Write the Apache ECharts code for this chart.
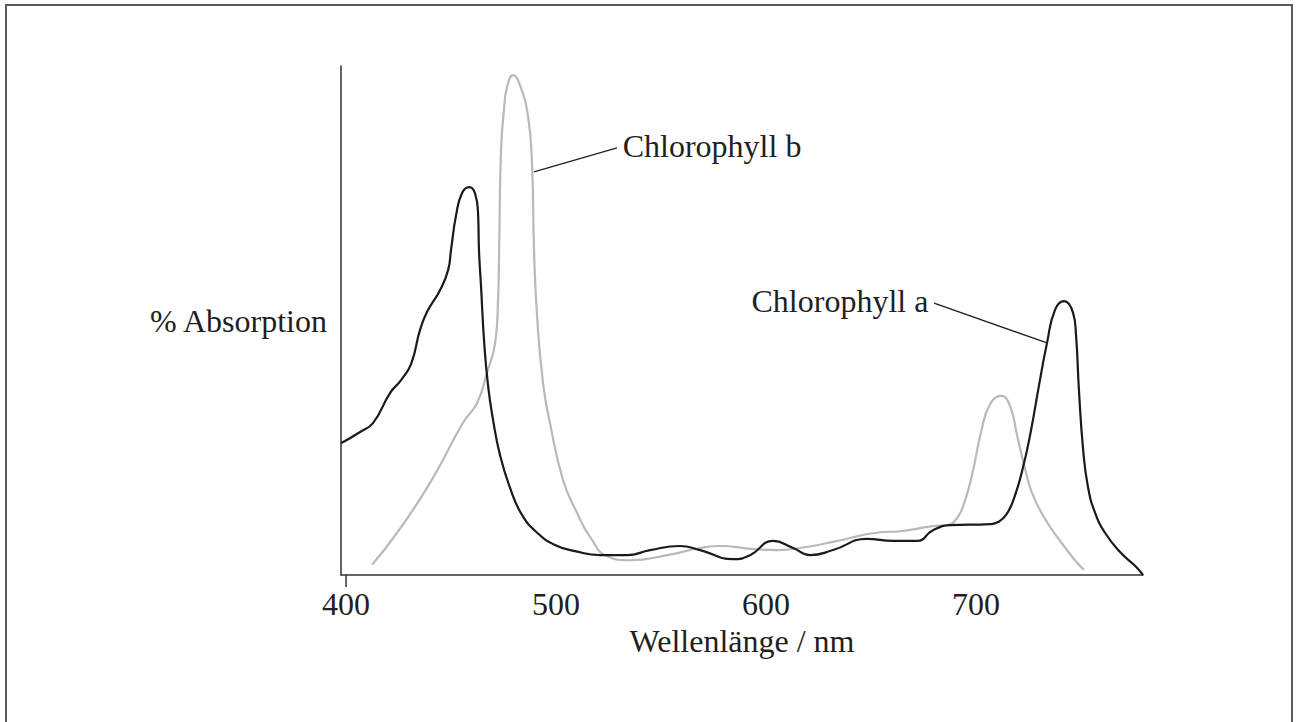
<!DOCTYPE html>
<html>
<head>
<meta charset="utf-8">
<script src="https://cdn.jsdelivr.net/npm/echarts@6/dist/echarts.min.js"></script>
<style>
html,body{margin:0;padding:0;background:#fff;}
#c{width:1300px;height:722px;}
</style>
</head>
<body>
<div id="c"></div>
<script>
// ---- data ----
var xTickLabels = [400, 500, 600, 700];
var xTickMarks = [400];

var chlAWavelength = [397.6,406.7,412.9,421.0,426.2,431.0,435.2,438.6,444.8,448.6,450.0,452.4,455.2,458.6,461.4,462.9,463.3,464.3,465.7,467.6,470.0,473.3,478.1,483.8,491.0,499.5,509.0,521.0,533.8,544.8,559.0,568.6,584.3,592.4,603.3,612.9,621.0,631.9,648.1,660.5,671.9,679.5,687.6,706.7,710.5,714.3,718.1,722.4,726.2,730.0,733.8,737.6,741.9,746.2,747.6,749.0,751.0,753.3,756.7,761.4,768.6,775.7,779.5];
var chlAAbsorption = [25.9,28.1,29.9,35.8,38.3,41.5,48.1,51.7,56.0,59.9,63.9,70.7,75.0,76.2,75.0,70.7,63.9,56.6,46.2,37.3,30.5,23.6,17.1,11.8,8.3,5.9,4.7,3.9,3.9,4.9,5.7,4.9,3.1,3.9,6.7,5.3,3.9,4.9,7.1,6.7,6.7,8.8,9.8,10.0,10.4,11.8,15.1,21.2,28.5,37.3,45.6,52.1,53.8,51.5,47.2,36.3,24.6,17.3,12.2,8.3,4.5,1.8,0];

var chlBWavelength = [412.4,424.3,440.0,455.7,462.4,467.1,471.0,472.4,472.9,473.8,475.2,476.7,479.5,482.6,486.7,488.6,489.5,491.0,493.8,497.1,503.3,510.0,516.2,524.3,535.2,552.9,568.6,578.1,593.8,605.2,616.2,631.9,654.3,663.8,679.5,686.2,691.0,694.8,698.6,702.4,706.7,711.9,716.2,719.5,722.9,726.7,732.9,740.0,747.1,751.4];
var chlBAbsorption = [2.0,8.3,18.1,29.9,33.8,39.7,45.6,54.0,63.9,83.5,91.4,95.9,98.2,96.5,90.0,80.2,63.9,50.7,37.7,29.9,18.7,12.2,7.5,3.7,2.9,3.9,5.3,5.7,5.1,4.9,5.3,6.5,8.4,8.6,9.6,9.8,11.2,14.7,20.6,28.1,33.6,35.2,33.2,27.5,21.6,16.1,11.0,6.7,2.9,1.0];

var labelA = 'Chlorophyll a';
var labelB = 'Chlorophyll b';
// leader lines: [curve point, text point]
var leaderA = [[733.8, 45.6], [680.0, 53.4]];
var leaderB = [[489.5, 79.2], [529.0, 83.9]];

var xAxisName = 'Wellenlänge / nm';
var yAxisName = '% Absorption';

function pairs(xs, ys){ return xs.map(function(x,i){ return [x, ys[i]]; }); }

var FONT = '"Liberation Serif", "Times New Roman", serif';
var TXT = '#231f20';
var FS = 32;

var chart = echarts.init(document.getElementById('c'), null, {renderer:'svg'});
function leader(pts, name){
  return {
    silent: true,
    symbol: ['none','none'],
    lineStyle: {color: '#231f20', width: 1.3, type: 'solid'},
    label: {show: true, position: 'end', distance: 6, formatter: name,
            fontFamily: FONT, fontSize: FS, color: TXT},
    emphasis: {disabled: true},
    data: [[{coord: pts[0]}, {coord: pts[1]}]]
  };
}
chart.setOption({
  animation: false,
  backgroundColor: '#fff',
  graphic: [{
    type: 'rect', silent: true,
    shape: {x: 6, y: 5, width: 1286, height: 740},
    style: {fill: 'none', stroke: '#5a5a5a', lineWidth: 2}
  }],
  grid: {left: 341, right: 157, top: 66, bottom: 147},
  xAxis: {
    type: 'value', min: 397.6, max: 779.5,
    name: xAxisName, nameLocation: 'middle', nameGap: 41,
    nameTextStyle: {fontFamily: FONT, fontSize: FS, color: TXT},
    axisLine: {show: true, lineStyle: {color: '#333', width: 1.5}},
    axisTick: {show: true, customValues: xTickMarks, length: 12, lineStyle: {color: '#333', width: 1.5}},
    axisLabel: {customValues: xTickLabels, fontFamily: FONT, fontSize: FS, color: TXT, margin: 13},
    splitLine: {show: false}
  },
  yAxis: {
    type: 'value', min: 0, max: 100,
    name: yAxisName, nameLocation: 'middle', nameRotate: 0, nameGap: 14,
    nameTextStyle: {fontFamily: FONT, fontSize: FS, color: TXT, padding: [22,0,0,0]},
    axisLine: {show: true, lineStyle: {color: '#333', width: 1.5}},
    axisTick: {show: false}, axisLabel: {show: false}, splitLine: {show: false}
  },
  series: [{
    type: 'line', name: labelB, data: pairs(chlBWavelength, chlBAbsorption),
    smooth: 0.5, symbol: 'none',
    lineStyle: {color: '#b9b9b9', width: 2.2},
    markLine: leader(leaderB, labelB), z: 2
  }, {
    type: 'line', name: labelA, data: pairs(chlAWavelength, chlAAbsorption),
    smooth: 0.5, symbol: 'none',
    lineStyle: {color: '#1a1a1a', width: 2.2},
    markLine: leader(leaderA, labelA), z: 3
  }]
});
</script>
</body>
</html>
